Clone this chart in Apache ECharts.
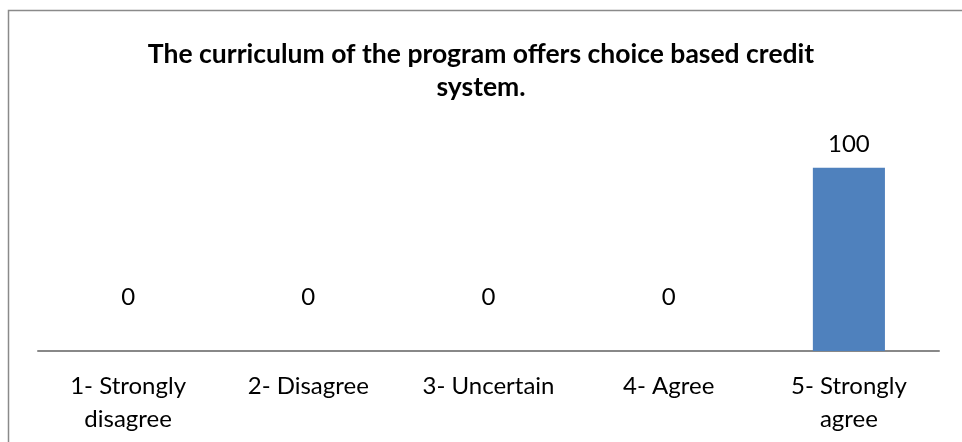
<!DOCTYPE html>
<html><head><meta charset="utf-8">
<script src="https://cdn.jsdelivr.net/npm/echarts@6/dist/echarts.min.js"></script>
<style>html,body{margin:0;padding:0;background:#fff}#c{width:962px;height:442px}</style>
</head><body><div id="c"></div>
<script>
var titleText = 'The curriculum of the program offers choice based credit\nsystem.';
var categories = ['1- Strongly\ndisagree', '2- Disagree', '3- Uncertain', '4- Agree', '5- Strongly\nagree'];
var values = [0, 0, 0, 0, 100];

var chart = echarts.init(document.getElementById('c'), null, {renderer: 'canvas'});
var FONT = 'Lato';
chart.setOption({
  animation: false,
  backgroundColor: '#fff',
  title: {
    text: titleText, left: 'center', top: 33,
    textStyle: {fontFamily: FONT, fontWeight: 'bold', fontSize: 26.5, color: '#000', lineHeight: 33}
  },
  graphic: [{
    type: 'rect', shape: {x: 8.5, y: 10.5, width: 1000, height: 500},
    style: {fill: 'none', stroke: '#8a8a8a', lineWidth: 1.5}, silent: true, z: 100
  }],
  grid: {left: 38, right: 23, top: 131, bottom: 91},
  xAxis: {
    type: 'category', data: categories,
    axisLine: {lineStyle: {color: '#888', width: 2}},
    axisTick: {show: false},
    axisLabel: {fontFamily: FONT, fontSize: 24, color: '#000', lineHeight: 33, margin: 19, interval: 0}
  },
  yAxis: {type: 'value', min: 0, max: 120, show: false, splitLine: {show: false}},
  series: [{
    type: 'bar', barWidth: '40%',
    data: values.map(function (v) {
      return {value: v, label: {distance: v === 0 ? 42 : 11}};
    }),
    itemStyle: {color: '#4F81BD'},
    label: {show: true, position: 'top', fontFamily: FONT, fontSize: 24, color: '#000'}
  }]
});
</script></body></html>
